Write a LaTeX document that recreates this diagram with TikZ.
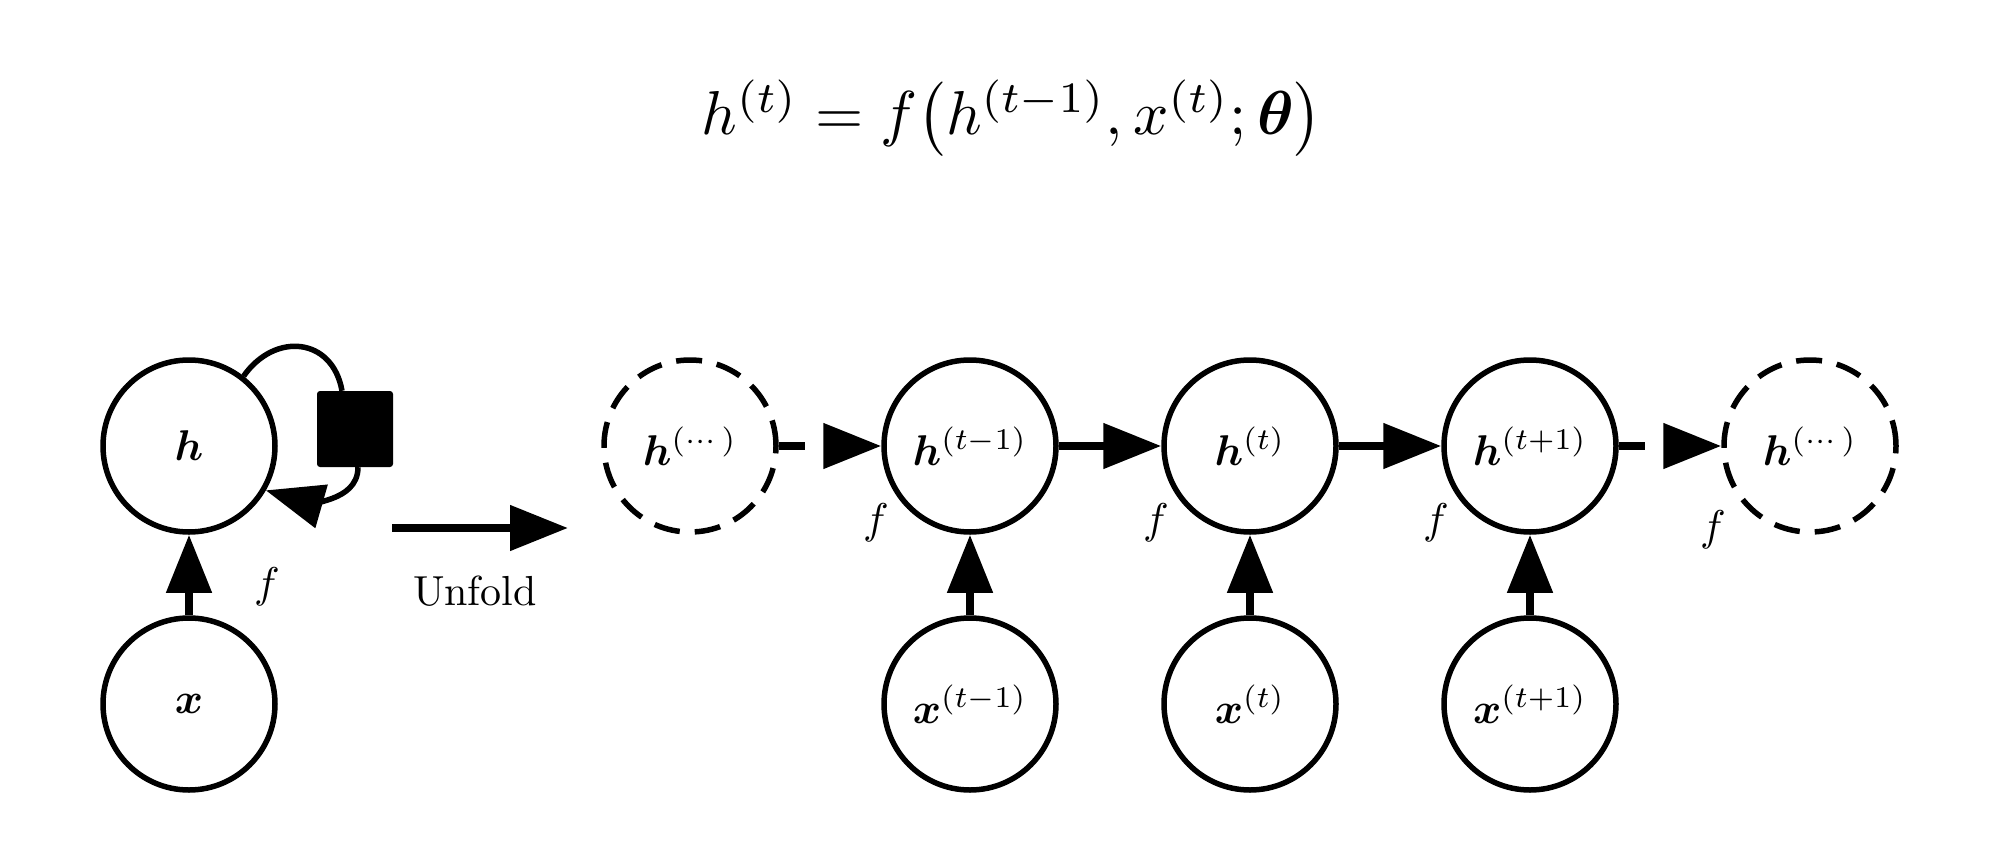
\RequirePackage{fix-cm}
\documentclass[tikz,border=0pt]{standalone}
\usepackage{amsmath}
\usepackage{bm}
\usepackage{graphicx}
\usetikzlibrary{arrows.meta}
\newcommand\lbl[1]{\scalebox{4.3}{#1}}
\tikzset{
  rnode/.style={circle, draw, line width=5.5pt, minimum size=172pt, inner sep=0pt},
  ghost/.style={rnode, dash pattern=on 26pt off 15pt},
  conn/.style={line width=8pt, -{Triangle[length=58pt,width=44pt]}},
  dconn/.style={conn, dash pattern=on 26pt off 20pt},
  flabel/.style={inner sep=0pt},
}
\begin{document}
\begin{tikzpicture}[x=1pt,y=1pt]
\useasboundingbox (0,0) rectangle (1998,-862);
% equation
\node (eq) at (1012,-118)
  {\scalebox{6.2}{$h^{(t)} = f\bigl(h^{(t-1)}, x^{(t)}; \boldsymbol{\theta}\bigr)$}};
% folded graph
\node[rnode] (h) at (189,-446) {\lbl{$\boldsymbol{h}$}};
\node[rnode] (x) at (189,-704) {\lbl{$\boldsymbol{x}$}};
\node[fill=black, minimum size=76pt, rounded corners=3pt, inner sep=0pt] (sq) at (355,-429) {};
\draw[line width=5.5pt] (h.52) to[out=55,in=100,looseness=1.4] ([xshift=-13pt]sq.north);
\draw[conn, line width=5.5pt] ([xshift=3pt]sq.south) to[out=-90,in=-16] (h.-30);
\draw[conn] (x) -- (h);
\node[flabel] (f0) at (267,-587) {\lbl{$f$}};
% unfold arrow
\coordinate (u1) at (392,-528);
\coordinate (u2) at (568,-528);
\draw[conn] (u1) -- (u2);
\node[anchor=base, inner sep=0pt] (unf) at (475,-605) {\scalebox{4.2}{Unfold}};
% unfolded graph
\node[ghost] (hl) at (690,-446) {\lbl{$\boldsymbol{h}^{(\cdots)}$}};
\node[rnode] (h1) at (970,-446) {\lbl{$\boldsymbol{h}^{(t-1)}$}};
\node[rnode] (h2) at (1250,-446) {\lbl{$\boldsymbol{h}^{(t)}$}};
\node[rnode] (h3) at (1530,-446) {\lbl{$\boldsymbol{h}^{(t+1)}$}};
\node[ghost] (hr) at (1810,-446) {\lbl{$\boldsymbol{h}^{(\cdots)}$}};
\node[rnode] (x1) at (970,-704) {\lbl{$\boldsymbol{x}^{(t-1)}$}};
\node[rnode] (x2) at (1250,-704) {\lbl{$\boldsymbol{x}^{(t)}$}};
\node[rnode] (x3) at (1530,-704) {\lbl{$\boldsymbol{x}^{(t+1)}$}};
\draw[dconn] (hl) -- (h1);
\draw[conn] (h1) -- (h2);
\draw[conn] (h2) -- (h3);
\draw[dconn] (h3) -- (hr);
\draw[conn] (x1) -- (h1);
\draw[conn] (x2) -- (h2);
\draw[conn] (x3) -- (h3);
\node[flabel] (f1) at (876,-523) {\lbl{$f$}};
\node[flabel] (f2) at (1156,-523) {\lbl{$f$}};
\node[flabel] (f3) at (1436,-523) {\lbl{$f$}};
\node[flabel] (f4) at (1713,-530) {\lbl{$f$}};
\end{tikzpicture}
\end{document}
